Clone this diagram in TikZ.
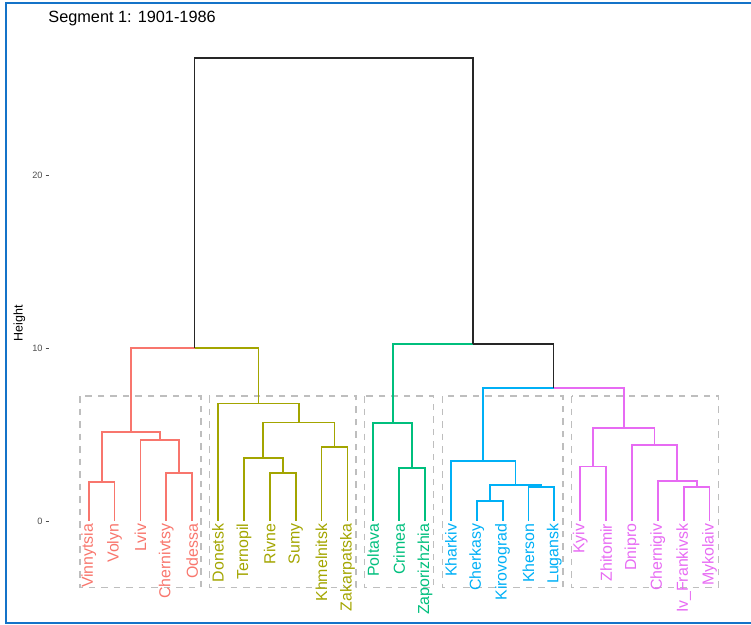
\documentclass[tikz,border=0pt]{standalone}
\usepackage{fontspec}
\setmainfont{Liberation Sans}
\usetikzlibrary{calc}
\definecolor{cpink}{HTML}{F8766D}
\definecolor{colive}{HTML}{A3A500}
\definecolor{cgreen}{HTML}{00BF7D}
\definecolor{cblue}{HTML}{00B0F6}
\definecolor{cmag}{HTML}{E76BF3}
\definecolor{frameblue}{RGB}{20,115,200}
\definecolor{boxgray}{HTML}{BEBEBE}
\definecolor{axisgray}{HTML}{4D4D4D}
\newcommand{\mergept}[4]{\path let \p1=(#2), \p2=(#3) in coordinate (#1) at ({(\x1+\x2)/2}, {-521+17.27*#4});}
\tikzset{
  branch/.style={line width=1.75pt, line cap=butt},
  clusterbox/.style={draw=boxgray, line width=1.4pt, dash pattern=on 6.5pt off 6pt},
  leaflabel/.style={font=\fontsize{15.9}{18}\selectfont, inner sep=0pt, anchor=east, rotate=90},
  ticklabel/.style={font=\fontsize{9.2}{11}\selectfont, text=axisgray, inner sep=0pt, anchor=east},
  tickmark/.style={draw=axisgray, line width=0.8pt},
  framestyle/.style={draw=frameblue, line width=2pt}
}
\begin{document}
\begin{tikzpicture}[x=1pt, y=1pt]
\useasboundingbox (0,0) rectangle (751,-624);
% frame
\coordinate (FTL) at (5.7,-2.5);
\coordinate (FTR) at (751,-2.5);
\coordinate (FBL) at (5.7,-622.6);
\coordinate (FBR) at (751,-622.6);
\draw[framestyle] (FTR) -- (FTL) -- (FBL) -- (FBR);
% title
\node[font=\fontsize{16.3}{19}\selectfont, anchor=base west, inner sep=0pt] (title) at (48.2,-22.7) {Segment 1: 1901-1986};
% axis
\node[font=\fontsize{12.5}{14}\selectfont, rotate=90, inner sep=0pt] (ylab) at (19.5,-323.4) {Height};
\foreach \v in {0,10,20} {
  \coordinate (tk\v) at (48.6,{-521+17.27*\v});
  \coordinate (tks\v) at (45.6,{-521+17.27*\v});
  \draw[tickmark] (tks\v) -- (tk\v);
  \node[ticklabel] (tl\v) at (42.8,{-521+17.27*\v}) {\v};
}
% cluster boxes
\coordinate (K1a) at (80,-396); \coordinate (K1b) at (200.9,-587.3);
\coordinate (K2a) at (209.35,-396); \coordinate (K2b) at (356.1,-587.3);
\coordinate (K3a) at (364.6,-396); \coordinate (K3b) at (433.7,-587.3);
\coordinate (K4a) at (442.2,-396); \coordinate (K4b) at (563.1,-587.3);
\coordinate (K5a) at (571.5,-396); \coordinate (K5b) at (718.3,-587.3);
\foreach \k in {1,...,5} \draw[clusterbox] (K\k a) rectangle (K\k b);
% leaves
\foreach \n/\c [count=\i from 0] in {Vinnytsia/cpink, Volyn/cpink, Lviv/cpink, Chernivtsy/cpink, Odessa/cpink,
  Donetsk/colive, Ternopil/colive, Rivne/colive, Sumy/colive, Khmelnitsk/colive, Zakarpatska/colive,
  Poltava/cgreen, Crimea/cgreen, Zaporizhzhia/cgreen,
  Kharkiv/cblue, Cherkasy/cblue, Kirovograd/cblue, Kherson/cblue, Lugansk/cblue,
  Kyiv/cmag, Zhitomir/cmag, Dnipro/cmag, Chernigiv/cmag, Iv\_Frankivsk/cmag, Mykolaiv/cmag} {
  \coordinate (L\i) at ({88.7+25.87*\i},-521);
  \node[leaflabel, text=\c] (T\i) at ({88.7+25.87*\i},-523.5) {\n};
}
% merge points
\mergept{P1}{L0}{L1}{2.26}
\mergept{P2}{L3}{L4}{2.76}
\mergept{P3}{L2}{P2}{4.71}
\mergept{P4}{P1}{P3}{5.14}
\mergept{O1}{L7}{L8}{2.76}
\mergept{O2}{L6}{O1}{3.67}
\mergept{O3}{L9}{L10}{4.27}
\mergept{O4}{O2}{O3}{5.71}
\mergept{O5}{L5}{O4}{6.81}
\mergept{A}{P4}{O5}{10.0}
\mergept{G1}{L12}{L13}{3.07}
\mergept{G2}{L11}{G1}{5.66}
\mergept{B1}{L15}{L16}{1.16}
\mergept{B2}{L17}{L18}{1.99}
\mergept{B3}{B1}{B2}{2.07}
\mergept{B4}{L14}{B3}{3.47}
\mergept{M1}{L19}{L20}{3.15}
\mergept{M2}{L23}{L24}{1.99}
\mergept{M3}{L22}{M2}{2.33}
\mergept{M4}{L21}{M3}{4.42}
\mergept{M5}{M1}{M4}{5.37}
\mergept{C}{B4}{M5}{7.68}
\mergept{D}{G2}{C}{10.23}
\mergept{R}{A}{D}{26.8}
% branches
\foreach \p/\c in {P1/L0, P1/L1, P2/L3, P2/L4, P3/L2, P3/P2, P4/P1, P4/P3, A/P4}
  \draw[branch, cpink] (\p) -| (\c);
\foreach \p/\c in {O1/L7, O1/L8, O2/L6, O2/O1, O3/L9, O3/L10, O4/O2, O4/O3, O5/L5, O5/O4, A/O5}
  \draw[branch, colive] (\p) -| (\c);
\foreach \p/\c in {G1/L12, G1/L13, G2/L11, G2/G1, D/G2}
  \draw[branch, cgreen] (\p) -| (\c);
\foreach \p/\c in {B1/L15, B1/L16, B2/L17, B2/L18, B3/B1, B3/B2, B4/L14, B4/B3, C/B4}
  \draw[branch, cblue] (\p) -| (\c);
\foreach \p/\c in {M1/L19, M1/L20, M2/L23, M2/L24, M3/L22, M3/M2, M4/L21, M4/M3, M5/M1, M5/M4, C/M5}
  \draw[branch, cmag] (\p) -| (\c);
\foreach \p/\c in {R/A, R/D, D/C}
  \draw[branch, black!85] (\p) -| (\c);
\end{tikzpicture}
\end{document}
